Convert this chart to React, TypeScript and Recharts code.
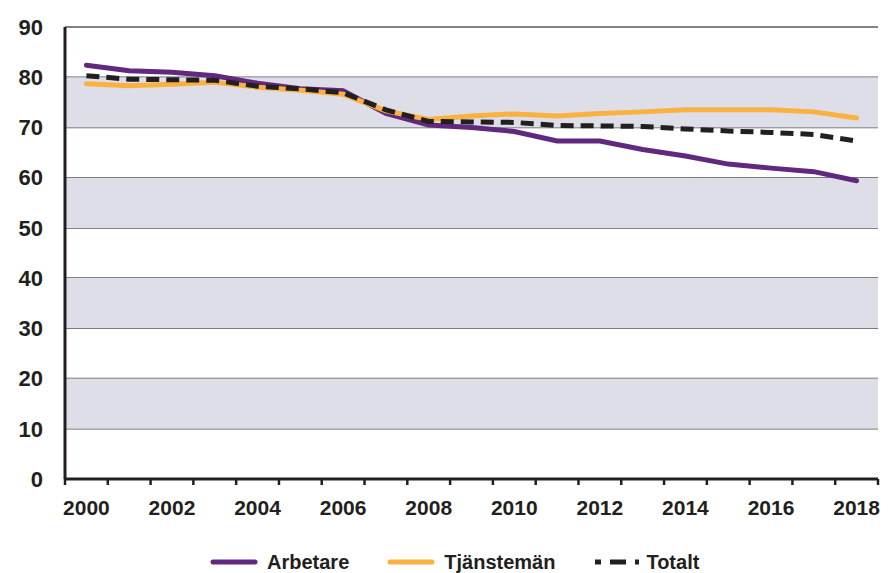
import { LineChart, Line, XAxis, YAxis, CartesianGrid, ReferenceArea } from "recharts";

const years = [
  2000, 2001, 2002, 2003, 2004, 2005, 2006, 2007, 2008, 2009,
  2010, 2011, 2012, 2013, 2014, 2015, 2016, 2017, 2018,
];
const arbetare = [
  82.4, 81.3, 81.0, 80.3, 78.8, 77.7, 77.3, 72.8, 70.5, 70.0,
  69.2, 67.3, 67.3, 65.6, 64.3, 62.7, 61.9, 61.2, 59.4,
];
const tjansteman = [
  78.7, 78.3, 78.6, 79.0, 78.0, 77.4, 76.6, 73.3, 71.6, 72.3,
  72.7, 72.3, 72.8, 73.1, 73.5, 73.5, 73.5, 73.1, 71.9,
];
const totalt = [
  80.3, 79.6, 79.5, 79.4, 78.2, 77.7, 76.9, 73.5, 71.2, 71.1,
  71.0, 70.4, 70.3, 70.2, 69.7, 69.3, 69.0, 68.6, 67.3,
];
const yTicks = [0, 10, 20, 30, 40, 50, 60, 70, 80, 90];
const xLabels = [2000, 2002, 2004, 2006, 2008, 2010, 2012, 2014, 2016, 2018];
const bands = [
  [10, 20],
  [30, 40],
  [50, 60],
  [70, 80],
];

const PURPLE = "#62287E";
const ORANGE = "#FBB13F";
const DARK = "#231F20";
const FONT = "'Liberation Sans', Arial, sans-serif";

const data = years.map((y, i) => ({
  year: y,
  arbetare: arbetare[i],
  tjansteman: tjansteman[i],
  totalt: totalt[i],
}));

// tick marks sit on the year boundaries, labels in the middle of each year
const tickMarks = [...years.map((y) => y - 0.5), years[years.length - 1] + 0.5];
const allTicks = [...tickMarks, ...xLabels].sort((a, b) => a - b);
const domain = [years[0] - 0.5, years[years.length - 1] + 0.5];

function XTick({ x, y, payload }: any) {
  const v = payload.value;
  if (v % 1 !== 0) {
    return <line x1={x} x2={x} y1={y} y2={y + 6} stroke={DARK} strokeWidth={2.5} />;
  }
  return (
    <text
      x={x}
      y={y + 36}
      textAnchor="middle"
      fill={DARK}
      fontSize={21}
      fontWeight={700}
      fontFamily={FONT}
    >
      {v}
    </text>
  );
}

const legendItems = [
  { name: "Arbetare", color: PURPLE, dash: undefined },
  { name: "Tjänstemän", color: ORANGE, dash: undefined },
  { name: "Totalt", color: DARK, dash: "6 9 16 9 6 100" },
];

function ChartLegend() {
  return (
    <div
      style={{
        position: "absolute",
        left: 210,
        top: 551,
        display: "flex",
        alignItems: "center",
        fontFamily: FONT,
        fontWeight: 700,
        fontSize: 20,
        color: DARK,
      }}
    >
      {legendItems.map((it, i) => (
        <div key={it.name} style={{ display: "flex", alignItems: "center", marginRight: i === 0 ? 38 : 37 }}>
          <svg width={48} height={10} style={{ marginRight: it.dash ? 6 : 9 }}>
            <line
              x1={3}
              x2={it.dash ? 47 : 45}
              y1={5}
              y2={5}
              stroke={it.color}
              strokeWidth={5}
              strokeLinecap={it.dash ? "butt" : "round"}
              strokeDasharray={it.dash}
            />
          </svg>
          <span style={{ lineHeight: "22px" }}>{it.name}</span>
        </div>
      ))}
    </div>
  );
}

export default function App() {
  return (
    <div style={{ position: "absolute", left: 0, top: 0, width: 888, height: 573, background: "#fff" }}>
      <LineChart
        width={888}
        height={573}
        data={data}
        margin={{ top: 27, right: 10, bottom: 64, left: 0 }}
      >
        {bands.map(([a, b]) => (
          <ReferenceArea key={a} y1={a} y2={b} fill="#DEDEE8" fillOpacity={1} stroke="none" />
        ))}
        <CartesianGrid vertical={false} stroke="#5a5a5a" strokeWidth={1.5} />
        <XAxis
          dataKey="year"
          type="number"
          domain={domain}
          ticks={allTicks}
          interval={0}
          tickLine={false}
          tickSize={0}
          tickMargin={0}
          axisLine={{ stroke: DARK, strokeWidth: 3 }}
          tick={<XTick />}
          height={30}
        />
        <YAxis
          domain={[0, 90]}
          ticks={yTicks}
          width={65}
          tickLine={false}
          tickSize={0}
          tickMargin={22}
          axisLine={{ stroke: DARK, strokeWidth: 3 }}
          tick={{ fill: DARK, fontSize: 22, fontWeight: 700, fontFamily: FONT }}
        />
        <Line
          dataKey="arbetare"
          stroke={PURPLE}
          strokeWidth={5}
          dot={false}
          strokeLinecap="round"
          isAnimationActive={false}
        />
        <Line
          dataKey="tjansteman"
          stroke={ORANGE}
          strokeWidth={5}
          dot={false}
          strokeLinecap="round"
          isAnimationActive={false}
        />
        <Line
          dataKey="totalt"
          stroke={DARK}
          strokeWidth={5}
          strokeDasharray="13 7"
          dot={false}
          isAnimationActive={false}
        />
      </LineChart>
      <ChartLegend />
    </div>
  );
}
